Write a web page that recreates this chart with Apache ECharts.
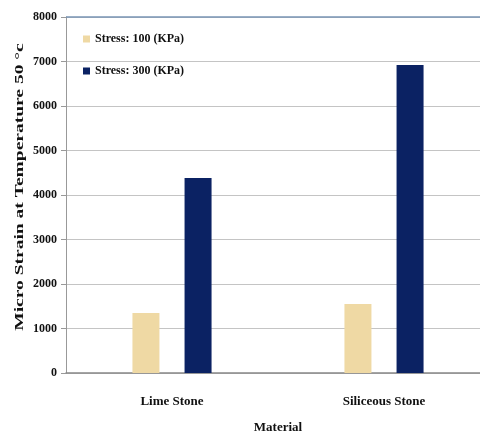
<!DOCTYPE html>
<html>
<head>
<meta charset="utf-8">
<script src="https://cdn.jsdelivr.net/npm/echarts@6/dist/echarts.min.js"></script>
<style>
  html, body { margin: 0; padding: 0; background: #fff; }
  #chart { width: 480px; height: 435px; }
</style>
</head>
<body>
<div id="chart"></div>
<script>
// Micro strain at 50 °C by material and stress level
const materials = ['Lime Stone', 'Siliceous Stone'];
const stress100 = [1350, 1550];
const stress300 = [4380, 6920];
const seriesNames = ['Stress: 100 (KPa)', 'Stress: 300 (KPa)'];
const yTicks = [0, 1000, 2000, 3000, 4000, 5000, 6000, 7000, 8000];
const yTitle = 'Micro Strain at Temperature 50 °c';

const serif = '"Liberation Serif", "Times New Roman", serif';
const chart = echarts.init(document.getElementById('chart'));

chart.setOption({
  animation: false,
  grid: { left: 66, right: -10, top: 17, bottom: 62, outerBoundsMode: 'none', containLabel: false },
  legend: {
    orient: 'vertical',
    left: 78,
    top: 28,
    itemGap: 20,
    itemWidth: 7,
    itemHeight: 7,
    icon: 'rect',
    textStyle: { fontFamily: serif, fontWeight: 'bold', fontSize: 12, color: '#111' },
    data: seriesNames
  },
  // rotated y-axis title, stretched along its length
  graphic: [{
    type: 'text',
    x: 20,
    y: 187,
    rotation: Math.PI / 2,
    scaleX: 1.5,
    style: {
      text: yTitle,
      font: 'bold 13px ' + serif,
      fill: '#111',
      align: 'center',
      verticalAlign: 'middle'
    }
  }],
  xAxis: {
    type: 'category',
    data: materials,
    name: 'Material',
    nameLocation: 'middle',
    nameGap: 48,
    nameTextStyle: { fontFamily: serif, fontWeight: 'bold', fontSize: 13, color: '#111' },
    axisLine: { lineStyle: { color: '#888', width: 1.5 } },
    axisTick: { show: false },
    axisLabel: { margin: 22, fontFamily: serif, fontWeight: 'bold', fontSize: 13, color: '#111' }
  },
  yAxis: {
    type: 'value',
    min: yTicks[0],
    max: yTicks[yTicks.length - 1],
    interval: 1000,
    axisLine: { show: true, lineStyle: { color: '#999' } },
    axisTick: { show: true, length: 5, lineStyle: { color: '#999' } },
    axisLabel: {
      margin: 9,
      fontFamily: serif, fontWeight: 'bold', fontSize: 12, color: '#111',
      formatter: v => String(v)
    },
    splitLine: { show: true, lineStyle: { color: '#c4c4c4', width: 1 } }
  },
  series: [
    {
      name: seriesNames[0],
      type: 'bar',
      data: stress100,
      barWidth: 27,
      barGap: '93%',
      itemStyle: { color: '#efd9a4' },
      // steel-blue top border line of the plot area
      markLine: {
        silent: true,
        symbol: 'none',
        z: 10,
        label: { show: false },
        lineStyle: { color: '#7895b5', type: 'solid', width: 1.5 },
        data: [{ yAxis: yTicks[yTicks.length - 1] }]
      }
    },
    {
      name: seriesNames[1],
      type: 'bar',
      data: stress300,
      barWidth: 27,
      itemStyle: { color: '#0b2263' }
    }
  ]
});
</script>
</body>
</html>
